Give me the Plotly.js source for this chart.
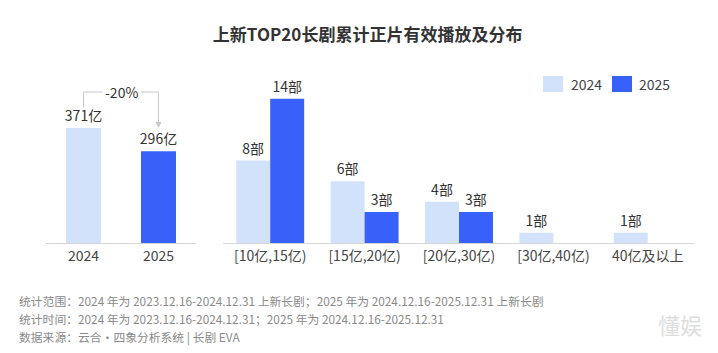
<!DOCTYPE html>
<html>
<head>
<meta charset="utf-8">
<script src="https://cdn.plot.ly/plotly-3.0.1.min.js"></script>
<style>html,body{margin:0;padding:0;background:#fff;}#chart{width:718px;height:353px;}</style>
</head>
<body>
<div id="chart"></div>
<script>
// ---- data ----
const totalYears = ['2024', '2025'];
const totalValues = [371, 296];
const changeLabel = '-20%';

const bucketCats = ['[10亿,15亿)', '[15亿,20亿)', '[20亿,30亿)', '[30亿,40亿)', '40亿及以上'];
const series2024 = [8, 6, 4, 1, 1];
const series2025 = [14, 3, 3, null, null];
const seriesNames = ['2024', '2025'];

const titleText = '上新TOP20长剧累计正片有效播放及分布';
const footerLines = [
  '统计范围：2024 年为 2023.12.16-2024.12.31 上新长剧；2025 年为 2024.12.16-2025.12.31 上新长剧',
  '统计时间：2024 年为 2023.12.16-2024.12.31；2025 年为 2024.12.16-2025.12.31',
  '数据来源：云合·四象分析系统 | 长剧 EVA'
];
const watermark = '懂娱';

// ---- style ----
const W = 718, H = 353;
const TOP = 60, BOTTOM = 243;
const C24 = '#d3e2fb', C25 = '#3761f9';
const FONT = '"Noto Sans CJK SC", "Noto Sans", sans-serif';
const TXT = '#333333';
const py = p => (BOTTOM - p) / (BOTTOM - TOP);   // pixel y -> paper y
const px = p => p / W;                            // pixel x -> paper x

const leftMax = 590, rightMax = 17.77;
const lv = p => (BOTTOM - p) / (BOTTOM - TOP) * leftMax; // pixel y -> left data

const traces = [
  {
    type: 'bar', x: totalYears, y: totalValues, xaxis: 'x', yaxis: 'y',
    marker: {color: [C24, C25]}, width: 0.467, offset: -0.2335,
    texttemplate: '%{y}亿', textposition: 'outside', cliponaxis: false, constraintext: 'none',
    textfont: {family: FONT, size: 14, color: TXT}, hoverinfo: 'skip', showlegend: false
  },
  {
    type: 'bar', name: seriesNames[0], x: bucketCats, y: series2024, xaxis: 'x2', yaxis: 'y2',
    marker: {color: C24}, width: 0.36, offset: -0.36,
    texttemplate: '%{y}部', textposition: 'outside', cliponaxis: false, constraintext: 'none',
    textfont: {family: FONT, size: 14, color: TXT}, hoverinfo: 'skip', showlegend: false
  },
  {
    type: 'bar', name: seriesNames[1], x: bucketCats, y: series2025, xaxis: 'x2', yaxis: 'y2',
    marker: {color: C25}, width: 0.36, offset: 0,
    texttemplate: '%{y}部', textposition: 'outside', cliponaxis: false, constraintext: 'none',
    textfont: {family: FONT, size: 14, color: TXT}, hoverinfo: 'skip', showlegend: false
  }
];

const axisCommon = {
  showgrid: false, zeroline: false, showline: true, linecolor: '#d6d6d6', linewidth: 1,
  ticks: '', tickfont: {family: FONT, size: 14, color: '#444'}, fixedrange: true
};
const yCommon = {showgrid: false, zeroline: false, showline: false, showticklabels: false, ticks: '', fixedrange: true};

const annotations = [];
footerLines.forEach((t, i) => {
  annotations.push({
    xref: 'paper', yref: 'paper', x: px(17), y: py([300, 318, 337][i]),
    xanchor: 'left', yanchor: 'middle', showarrow: false, text: t,
    font: {family: FONT, size: 11.8, color: '#8a8a8a'}
  });
});
// change label
annotations.push({
  xref: 'x', yref: 'y', x: 0.5, y: lv(92), text: changeLabel, showarrow: false,
  bgcolor: '#ffffff', borderpad: 2, font: {family: FONT, size: 14, color: TXT}
});
// arrow
annotations.push({
  xref: 'x', yref: 'y', x: 1, y: lv(128), axref: 'x', ayref: 'y', ax: 1, ay: lv(92),
  text: '', showarrow: true, arrowhead: 2, arrowsize: 1.2, arrowwidth: 1, arrowcolor: '#c8c8c8'
});
// legend texts
annotations.push({xref: 'paper', yref: 'paper', x: px(569), y: py(84), xanchor: 'left', yanchor: 'middle',
  showarrow: false, text: seriesNames[0], font: {family: FONT, size: 14, color: '#444'}});
annotations.push({xref: 'paper', yref: 'paper', x: px(637), y: py(84), xanchor: 'left', yanchor: 'middle',
  showarrow: false, text: seriesNames[1], font: {family: FONT, size: 14, color: '#444'}});
// watermark
annotations.push({xref: 'paper', yref: 'paper', x: px(680), y: py(324), xanchor: 'center', yanchor: 'middle',
  showarrow: false, text: watermark, font: {family: FONT, size: 22, color: '#dedede'}});

const shapes = [
  {type: 'path', xref: 'x', yref: 'y', path: `M 0 ${lv(107)} L 0 ${lv(92)} L 1 ${lv(92)} L 1 ${lv(123)}`,
   line: {color: '#c8c8c8', width: 1}},
  {type: 'rect', xref: 'paper', yref: 'paper', x0: px(543), x1: px(563), y0: py(92), y1: py(76),
   fillcolor: C24, line: {width: 0}},
  {type: 'rect', xref: 'paper', yref: 'paper', x0: px(612), x1: px(632), y0: py(92), y1: py(76),
   fillcolor: C25, line: {width: 0}}
];

const layout = {
  width: W, height: H,
  margin: {l: 0, r: 0, t: TOP, b: H - BOTTOM, pad: 0},
  paper_bgcolor: '#ffffff', plot_bgcolor: '#ffffff',
  title: {text: titleText, x: 0.512, xanchor: 'center', y: 1 - 35 / H, yanchor: 'middle', yref: 'container',
    font: {family: FONT, size: 17, color: '#333', weight: 'bold'}},
  barmode: 'overlay',
  xaxis: Object.assign({}, axisCommon, {domain: [px(46), px(196)], range: [-0.5, 1.5], type: 'category', anchor: 'y'}),
  yaxis: Object.assign({}, yCommon, {domain: [0, 1], range: [0, leftMax], anchor: 'x'}),
  xaxis2: Object.assign({}, axisCommon, {domain: [px(223), px(695)], range: [-0.5, 4.5], type: 'category', anchor: 'y2'}),
  yaxis2: Object.assign({}, yCommon, {domain: [0, 1], range: [0, rightMax], anchor: 'x2'}),
  annotations: annotations, shapes: shapes, showlegend: false
};

Plotly.newPlot('chart', traces, layout, {displayModeBar: false, staticPlot: true});
</script>
</body>
</html>
